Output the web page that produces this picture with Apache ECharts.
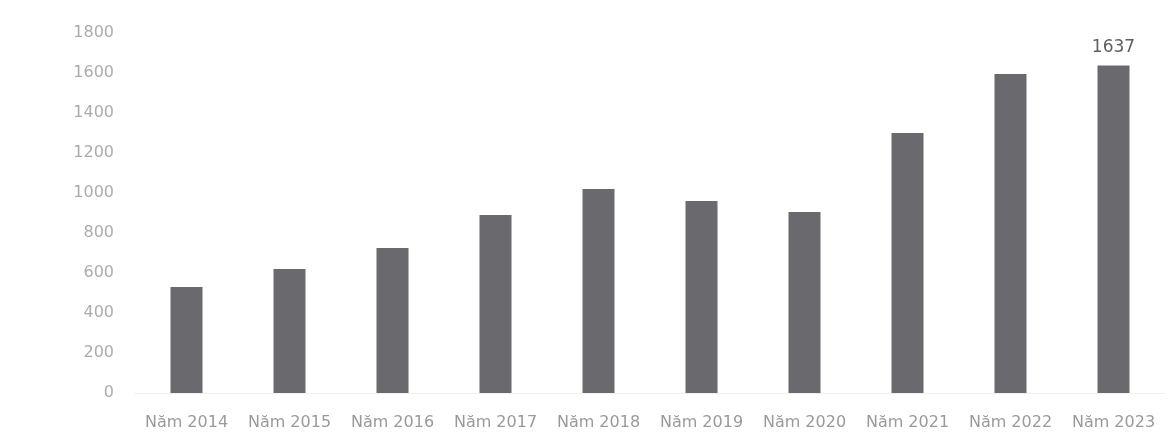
<!DOCTYPE html>
<html>
<head>
<meta charset="utf-8">
<script src="https://cdn.jsdelivr.net/npm/echarts@6/dist/echarts.min.js"></script>
<style>html,body{margin:0;padding:0;background:#fff}#c{width:1170px;height:439px}</style>
</head>
<body>
<div id="c"></div>
<script>
const categories = ['Năm 2014','Năm 2015','Năm 2016','Năm 2017','Năm 2018','Năm 2019','Năm 2020','Năm 2021','Năm 2022','Năm 2023'];
const values = [530, 620, 725, 890, 1020, 960, 905, 1300, 1595, 1637];
const labelledIndex = 9;

const chart = echarts.init(document.getElementById('c'));
chart.setOption({
  backgroundColor: '#ffffff',
  animation: false,
  grid: {left: 135, right: 5, top: 33, bottom: 46},
  xAxis: {
    type: 'category',
    data: categories,
    axisLine: {show: true, lineStyle: {color: '#f0f0f0'}},
    axisTick: {show: false},
    axisLabel: {interval: 0, color: '#9a9a9a', fontSize: 16, fontFamily: 'DejaVu Sans, sans-serif', margin: 22}
  },
  yAxis: {
    type: 'value',
    min: 0, max: 1800, interval: 200,
    axisLine: {show: false},
    axisTick: {show: false},
    splitLine: {show: false},
    axisLabel: {color: '#acacac', fontSize: 16, fontFamily: 'DejaVu Sans, sans-serif', margin: 21,
      formatter: v => String(v)}
  },
  series: [{
    type: 'bar',
    barWidth: 32,
    data: values.map((v, i) => ({
      value: v,
      label: {show: i === labelledIndex, position: 'top', distance: 10, color: '#606060', fontSize: 17, fontFamily: 'DejaVu Sans, sans-serif'}
    })),
    itemStyle: {color: '#6a6a6e'}
  }]
});
</script>
</body>
</html>
